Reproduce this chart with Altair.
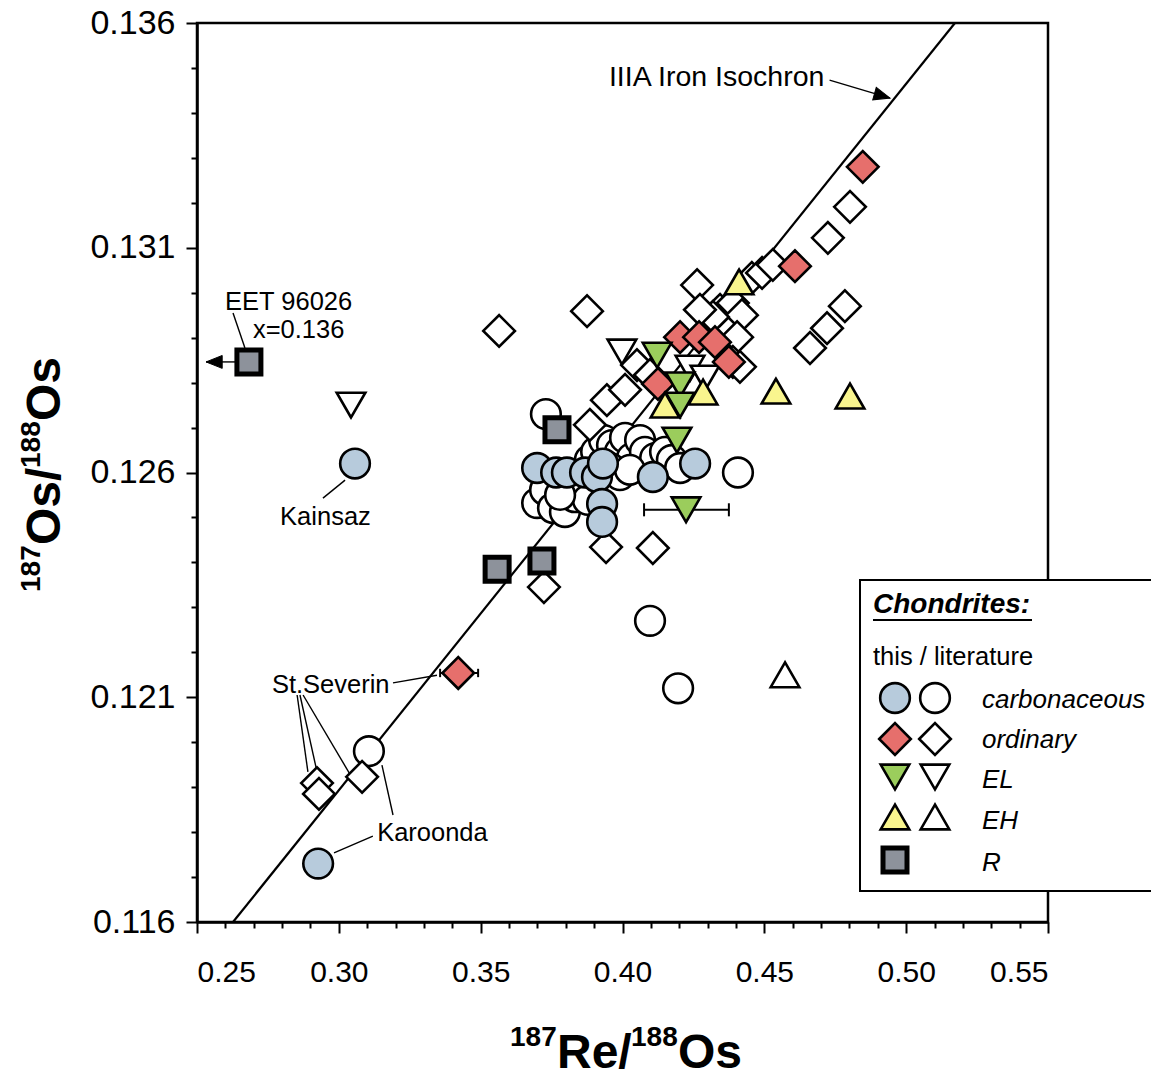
import altair as alt
import pandas as pd

FONT = "Liberation Sans"
W, H = 851, 899
XD = [0.25, 0.55]
YD = [0.116, 0.136]

# ---------------- data ----------------
x_major = [0.25, 0.30, 0.35, 0.40, 0.45, 0.50, 0.55]
x_minor = [0.26, 0.27, 0.28, 0.29, 0.31, 0.32, 0.33, 0.34, 0.36, 0.37, 0.38, 0.39,
           0.41, 0.42, 0.43, 0.44, 0.46, 0.47, 0.48, 0.49, 0.51, 0.52, 0.53, 0.54]
y_major = [0.116, 0.121, 0.126, 0.131, 0.136]
y_minor = [0.117, 0.118, 0.119, 0.120, 0.122, 0.123, 0.124, 0.125, 0.127, 0.128,
           0.129, 0.130, 0.132, 0.133, 0.134, 0.135]

iso_x = [0.2627, 0.5172]
iso_y = [0.116, 0.136]

carb_this_x = [0.3057, 0.2927, 0.3699, 0.3766, 0.3804, 0.3868, 0.3910, 0.3931, 0.3928, 0.3928, 0.4107, 0.4256]
carb_this_y = [0.1262, 0.1173, 0.1261, 0.1260, 0.1260, 0.1260, 0.1259, 0.1262, 0.1253, 0.1249, 0.1259, 0.1262]

carb_lit_x = [0.3106, 0.3730, 0.4407, 0.4097, 0.4196, 0.3699, 0.3727, 0.3755, 0.3797, 0.3832,
              0.3861, 0.3885, 0.3907, 0.3935, 0.3963, 0.3991, 0.4009, 0.4033, 0.4062, 0.4079,
              0.4115, 0.4150, 0.4174, 0.3878, 0.3780, 0.3956, 0.3991, 0.4026, 0.4203]
carb_lit_y = [0.1198, 0.1273, 0.1260, 0.1227, 0.1212, 0.12532, 0.12561, 0.12521, 0.12512, 0.12545,
              0.12566, 0.12628, 0.12646, 0.12672, 0.12661, 0.12646, 0.12677, 0.12632, 0.12672, 0.12646,
              0.12632, 0.12646, 0.12628, 0.12539, 0.12550, 0.12610, 0.12594, 0.12606, 0.12610]

ord_this_x = [0.4847, 0.4608, 0.4203, 0.4270, 0.4326, 0.4375, 0.4125, 0.3421]
ord_this_y = [0.13280, 0.13059, 0.12901, 0.12901, 0.12890, 0.12846, 0.12797, 0.12154]

ord_lit_x = [0.3565, 0.3875, 0.4263, 0.4456, 0.4492, 0.4530, 0.4802, 0.4724, 0.4784, 0.4721,
             0.4661, 0.4344, 0.4389, 0.4421, 0.4404, 0.4319, 0.4273, 0.4389, 0.4414, 0.3945,
             0.4009, 0.4051, 0.4097, 0.3942, 0.4107, 0.3723, 0.2923, 0.2930, 0.3082, 0.3885]
ord_lit_y = [0.12915, 0.12959, 0.13017, 0.13033, 0.13044, 0.13062, 0.13191, 0.13122, 0.12970, 0.12921,
             0.12877, 0.12962, 0.12977, 0.12950, 0.12901, 0.12946, 0.12962, 0.12846, 0.12835, 0.12761,
             0.12784, 0.12839, 0.12817, 0.12434, 0.12432, 0.12345, 0.11909, 0.11885, 0.11923, 0.12706]

el_this_x = [0.4122, 0.4203, 0.4203, 0.4192, 0.4224]
el_this_y = [0.12861, 0.12795, 0.12750, 0.12672, 0.12517]
el_lit_x = [0.3043, 0.3998, 0.4238, 0.4291]
el_lit_y = [0.12750, 0.12868, 0.12832, 0.12810]

eh_this_x = [0.4411, 0.4541, 0.4802, 0.4284, 0.4150]
eh_this_y = [0.13024, 0.12781, 0.12770, 0.12779, 0.12750]
eh_lit_x = [0.4573]
eh_lit_y = [0.12150]

r_this_x = [0.2683, 0.3769, 0.3558, 0.3716]
r_this_y = [0.12846, 0.12695, 0.12385, 0.12403]

# error bars (x uncertainties)
err_lo = [0.3357, 0.4076]
err_hi = [0.3491, 0.4375]
err_y = [0.12154, 0.12517]

# annotation labels
lab_text = ["EET 96026", "x=0.136", "Kainsaz", "St.Severin", "Karoonda"]
lab_x = [0.2599, 0.2697, 0.2793, 0.2764, 0.3135]
lab_y = [0.12979, 0.12917, 0.12501, 0.12127, 0.11798]
iso_label = "IIIA Iron Isochron"
iso_label_x = [0.3952]
iso_label_y = [0.13480]

# leader lines
seg_x = [0.2627, 0.2944, 0.3191, 0.2853, 0.2863, 0.2874, 0.3191, 0.3120, 0.4730, 0.2641]
seg_y = [0.12955, 0.12543, 0.12132, 0.12105, 0.12105, 0.12105, 0.11838, 0.11791, 0.13473, 0.12846]
seg_x2 = [0.2669, 0.3022, 0.3346, 0.2891, 0.2920, 0.3039, 0.3152, 0.2983, 0.4943, 0.2532]
seg_y2 = [0.12877, 0.12583, 0.12149, 0.11934, 0.11943, 0.11929, 0.11949, 0.11754, 0.13433, 0.12846]

arrow_x = [0.4943, 0.2532]
arrow_y = [0.13433, 0.12846]
arrow_ang = [16, 180]

COL_BLUE = "#b7cbdc"
COL_RED = "#e66f6c"
COL_GREEN = "#9bcd5c"
COL_YELLOW = "#f9f58e"
COL_GRAY = "#8d929b"

# ---------------- helpers ----------------
sx = alt.Scale(domain=XD, nice=False, zero=False)
sy = alt.Scale(domain=YD, nice=False, zero=False)


def X(f):
    return alt.X(f"{f}:Q", scale=sx, axis=None)


def Y(f):
    return alt.Y(f"{f}:Q", scale=sy, axis=None)


def pts(xs, ys, shape, fill, size, sw=2.6):
    df = pd.DataFrame({"x": xs, "y": ys})
    return alt.Chart(df).mark_point(shape=shape, filled=True, fill=fill, stroke="black",
                                    strokeWidth=sw, size=size, opacity=1).encode(x=X("x"), y=Y("y"))


dummy = pd.DataFrame({"a": [0]})

iso_df = pd.DataFrame({"x": iso_x, "y": iso_y})
major = alt.Chart(iso_df).mark_line(color="black", strokeWidth=2.2).encode(
    x=alt.X("x:Q", scale=sx, axis=alt.Axis(values=x_major, format=".2f", orient="bottom", title=None,
                                            tickSize=11, labelPadding=24, grid=False, labelFontSize=30)),
    y=alt.Y("y:Q", scale=sy, axis=alt.Axis(values=y_major, format=".3f", orient="left", title=None,
                                            tickSize=11, labelPadding=11, grid=False, labelFontSize=34)),
)
minor = alt.Chart(iso_df).mark_line(opacity=0).encode(
    x=alt.X("x:Q", scale=sx, axis=alt.Axis(values=x_minor, labels=False, orient="bottom", title=None,
                                            tickSize=6, domain=False, grid=False)),
    y=alt.Y("y:Q", scale=sy, axis=alt.Axis(values=y_minor, labels=False, orient="left", title=None,
                                            tickSize=6, domain=False, grid=False)),
)

seg_df = pd.DataFrame({"x": seg_x, "y": seg_y, "x2": seg_x2, "y2": seg_y2})
segs = alt.Chart(seg_df).mark_rule(color="black", strokeWidth=1.4).encode(
    x=X("x"), y=Y("y"), x2="x2:Q", y2="y2:Q")

arr_df = pd.DataFrame({"x": arrow_x, "y": arrow_y, "a": arrow_ang})
arrows = alt.Chart(arr_df).mark_point(shape="M0,0L-2,-0.8L-2,0.8Z", filled=True, fill="black",
                                      stroke="black", strokeWidth=1, size=260, opacity=1).encode(
    x=X("x"), y=Y("y"), angle=alt.Angle("a:Q", scale=None))

err_df = pd.DataFrame({"lo": err_lo, "hi": err_hi, "y": err_y})
err_line = alt.Chart(err_df).mark_rule(color="black", strokeWidth=2).encode(
    x=X("lo"), x2="hi:Q", y=Y("y"))
cap_r_lo = alt.Chart(err_df.iloc[[0]]).mark_point(shape="M0,-1L0,1", stroke="black", strokeWidth=2,
                                                   size=70, opacity=1).encode(x=X("lo"), y=Y("y"))
cap_r_hi = alt.Chart(err_df.iloc[[0]]).mark_point(shape="M0,-1L0,1", stroke="black", strokeWidth=2,
                                                   size=70, opacity=1).encode(x=X("hi"), y=Y("y"))
cap_g_lo = alt.Chart(err_df.iloc[[1]]).mark_point(shape="M0,-1L0,1", stroke="black", strokeWidth=2,
                                                   size=170, opacity=1).encode(x=X("lo"), y=Y("y"))
cap_g_hi = alt.Chart(err_df.iloc[[1]]).mark_point(shape="M0,-1L0,1", stroke="black", strokeWidth=2,
                                                   size=170, opacity=1).encode(x=X("hi"), y=Y("y"))

S_CIRC, S_DIAM, S_TRI, S_SQ = 880, 1000, 820, 576

layers = [
    major, minor, segs, arrows, err_line, cap_r_lo, cap_r_hi, cap_g_lo, cap_g_hi,
    pts(carb_lit_x, carb_lit_y, "circle", "white", S_CIRC),
    pts(ord_lit_x, ord_lit_y, "diamond", "white", S_DIAM),
    pts(el_lit_x, el_lit_y, "triangle-down", "white", S_TRI),
    pts(eh_lit_x, eh_lit_y, "triangle-up", "white", S_TRI),
    pts(carb_this_x, carb_this_y, "circle", COL_BLUE, S_CIRC),
    pts(ord_this_x, ord_this_y, "diamond", COL_RED, S_DIAM),
    pts(el_this_x, el_this_y, "triangle-down", COL_GREEN, S_TRI),
    pts(eh_this_x, eh_this_y, "triangle-up", COL_YELLOW, S_TRI),
    pts(r_this_x, r_this_y, "square", COL_GRAY, S_SQ, sw=5),
]

lab_df = pd.DataFrame({"t": lab_text, "x": lab_x, "y": lab_y})
layers.append(alt.Chart(lab_df).mark_text(font=FONT, fontSize=25.5, align="left", baseline="middle",
                                          color="black").encode(x=X("x"), y=Y("y"), text="t:N"))
iso_lab_df = pd.DataFrame({"t": [iso_label], "x": iso_label_x, "y": iso_label_y})
layers.append(alt.Chart(iso_lab_df).mark_text(font=FONT, fontSize=28.5, align="left", baseline="middle",
                                              color="black").encode(x=X("x"), y=Y("y"), text="t:N"))

# ---------------- legend (drawn in pixel space) ----------------
layers.append(alt.Chart(dummy).mark_rect(fill="white", stroke="black", strokeWidth=2).encode(
    x=alt.value(663), x2=alt.value(1000), y=alt.value(557), y2=alt.value(868)))
layers.append(alt.Chart(dummy).mark_text(text="Chondrites:", font=FONT, fontSize=28, fontWeight="bold",
                                         fontStyle="italic", align="left", baseline="middle",
                                         color="black").encode(x=alt.value(676), y=alt.value(582)))
layers.append(alt.Chart(dummy).mark_rule(color="black", strokeWidth=2).encode(
    x=alt.value(676), x2=alt.value(835), y=alt.value(597)))
layers.append(alt.Chart(dummy).mark_text(text="this / literature", font=FONT, fontSize=25.5, align="left",
                                         baseline="middle", color="black").encode(
    x=alt.value(676), y=alt.value(634)))

leg_names = ["carbonaceous", "ordinary", "EL", "EH", "R"]
leg_shapes = ["circle", "diamond", "triangle-down", "triangle-up", "square"]
leg_fills = [COL_BLUE, COL_RED, COL_GREEN, COL_YELLOW, COL_GRAY]
leg_sym_y = [675, 716, 754, 794, 837]
leg_txt_y = [677, 717, 757, 798, 840]
leg_sizes = [S_CIRC, S_DIAM, S_TRI, S_TRI, S_SQ]
for i, nm in enumerate(leg_names):
    sw = 5 if leg_shapes[i] == "square" else 2.6
    layers.append(alt.Chart(dummy).mark_point(shape=leg_shapes[i], filled=True, fill=leg_fills[i],
                                              stroke="black", strokeWidth=sw, size=leg_sizes[i],
                                              opacity=1).encode(x=alt.value(698), y=alt.value(leg_sym_y[i])))
    if leg_shapes[i] != "square":
        layers.append(alt.Chart(dummy).mark_point(shape=leg_shapes[i], filled=True, fill="white",
                                                  stroke="black", strokeWidth=2.6, size=leg_sizes[i],
                                                  opacity=1).encode(x=alt.value(738), y=alt.value(leg_sym_y[i])))
    layers.append(alt.Chart(dummy).mark_text(text=nm, font=FONT, fontSize=26, fontStyle="italic",
                                             align="left", baseline="middle", color="black").encode(
        x=alt.value(785), y=alt.value(leg_txt_y[i])))

# ---------------- axis titles with superscripts ----------------
xt = [("187", 313, 1023, 28), ("Re/", 360, 1045, 48), ("188", 434, 1023, 28), ("Os", 481, 1045, 48)]
for t, px, py, fs in xt:
    layers.append(alt.Chart(dummy).mark_text(text=t, font=FONT, fontSize=fs, fontWeight="bold",
                                             align="left", baseline="alphabetic", color="black").encode(
        x=alt.value(px), y=alt.value(py)))
yt = [("187", -157, 569, 28), ("Os/", -137, 522, 48), ("188", -157, 445, 28), ("Os", -137, 398, 48)]
for t, px, py, fs in yt:
    layers.append(alt.Chart(dummy).mark_text(text=t, font=FONT, fontSize=fs, fontWeight="bold", angle=270,
                                             align="left", baseline="alphabetic", color="black").encode(
        x=alt.value(px), y=alt.value(py)))

chart = alt.layer(*layers).resolve_axis(x="independent", y="independent").properties(
    width=W, height=H,
    autosize=alt.AutoSizeParams(type="none"),
    padding={"left": 197, "top": 23, "right": 103, "bottom": 157},
    background="white",
).configure_axis(
    labelFont=FONT, labelFontSize=30, labelColor="black", tickColor="black", domainColor="black",
    domainWidth=2.5, tickWidth=2, grid=False,
).configure_view(stroke="black", strokeWidth=2.5)

chart.save("out.html", embed_options={"renderer": "svg", "actions": False})
